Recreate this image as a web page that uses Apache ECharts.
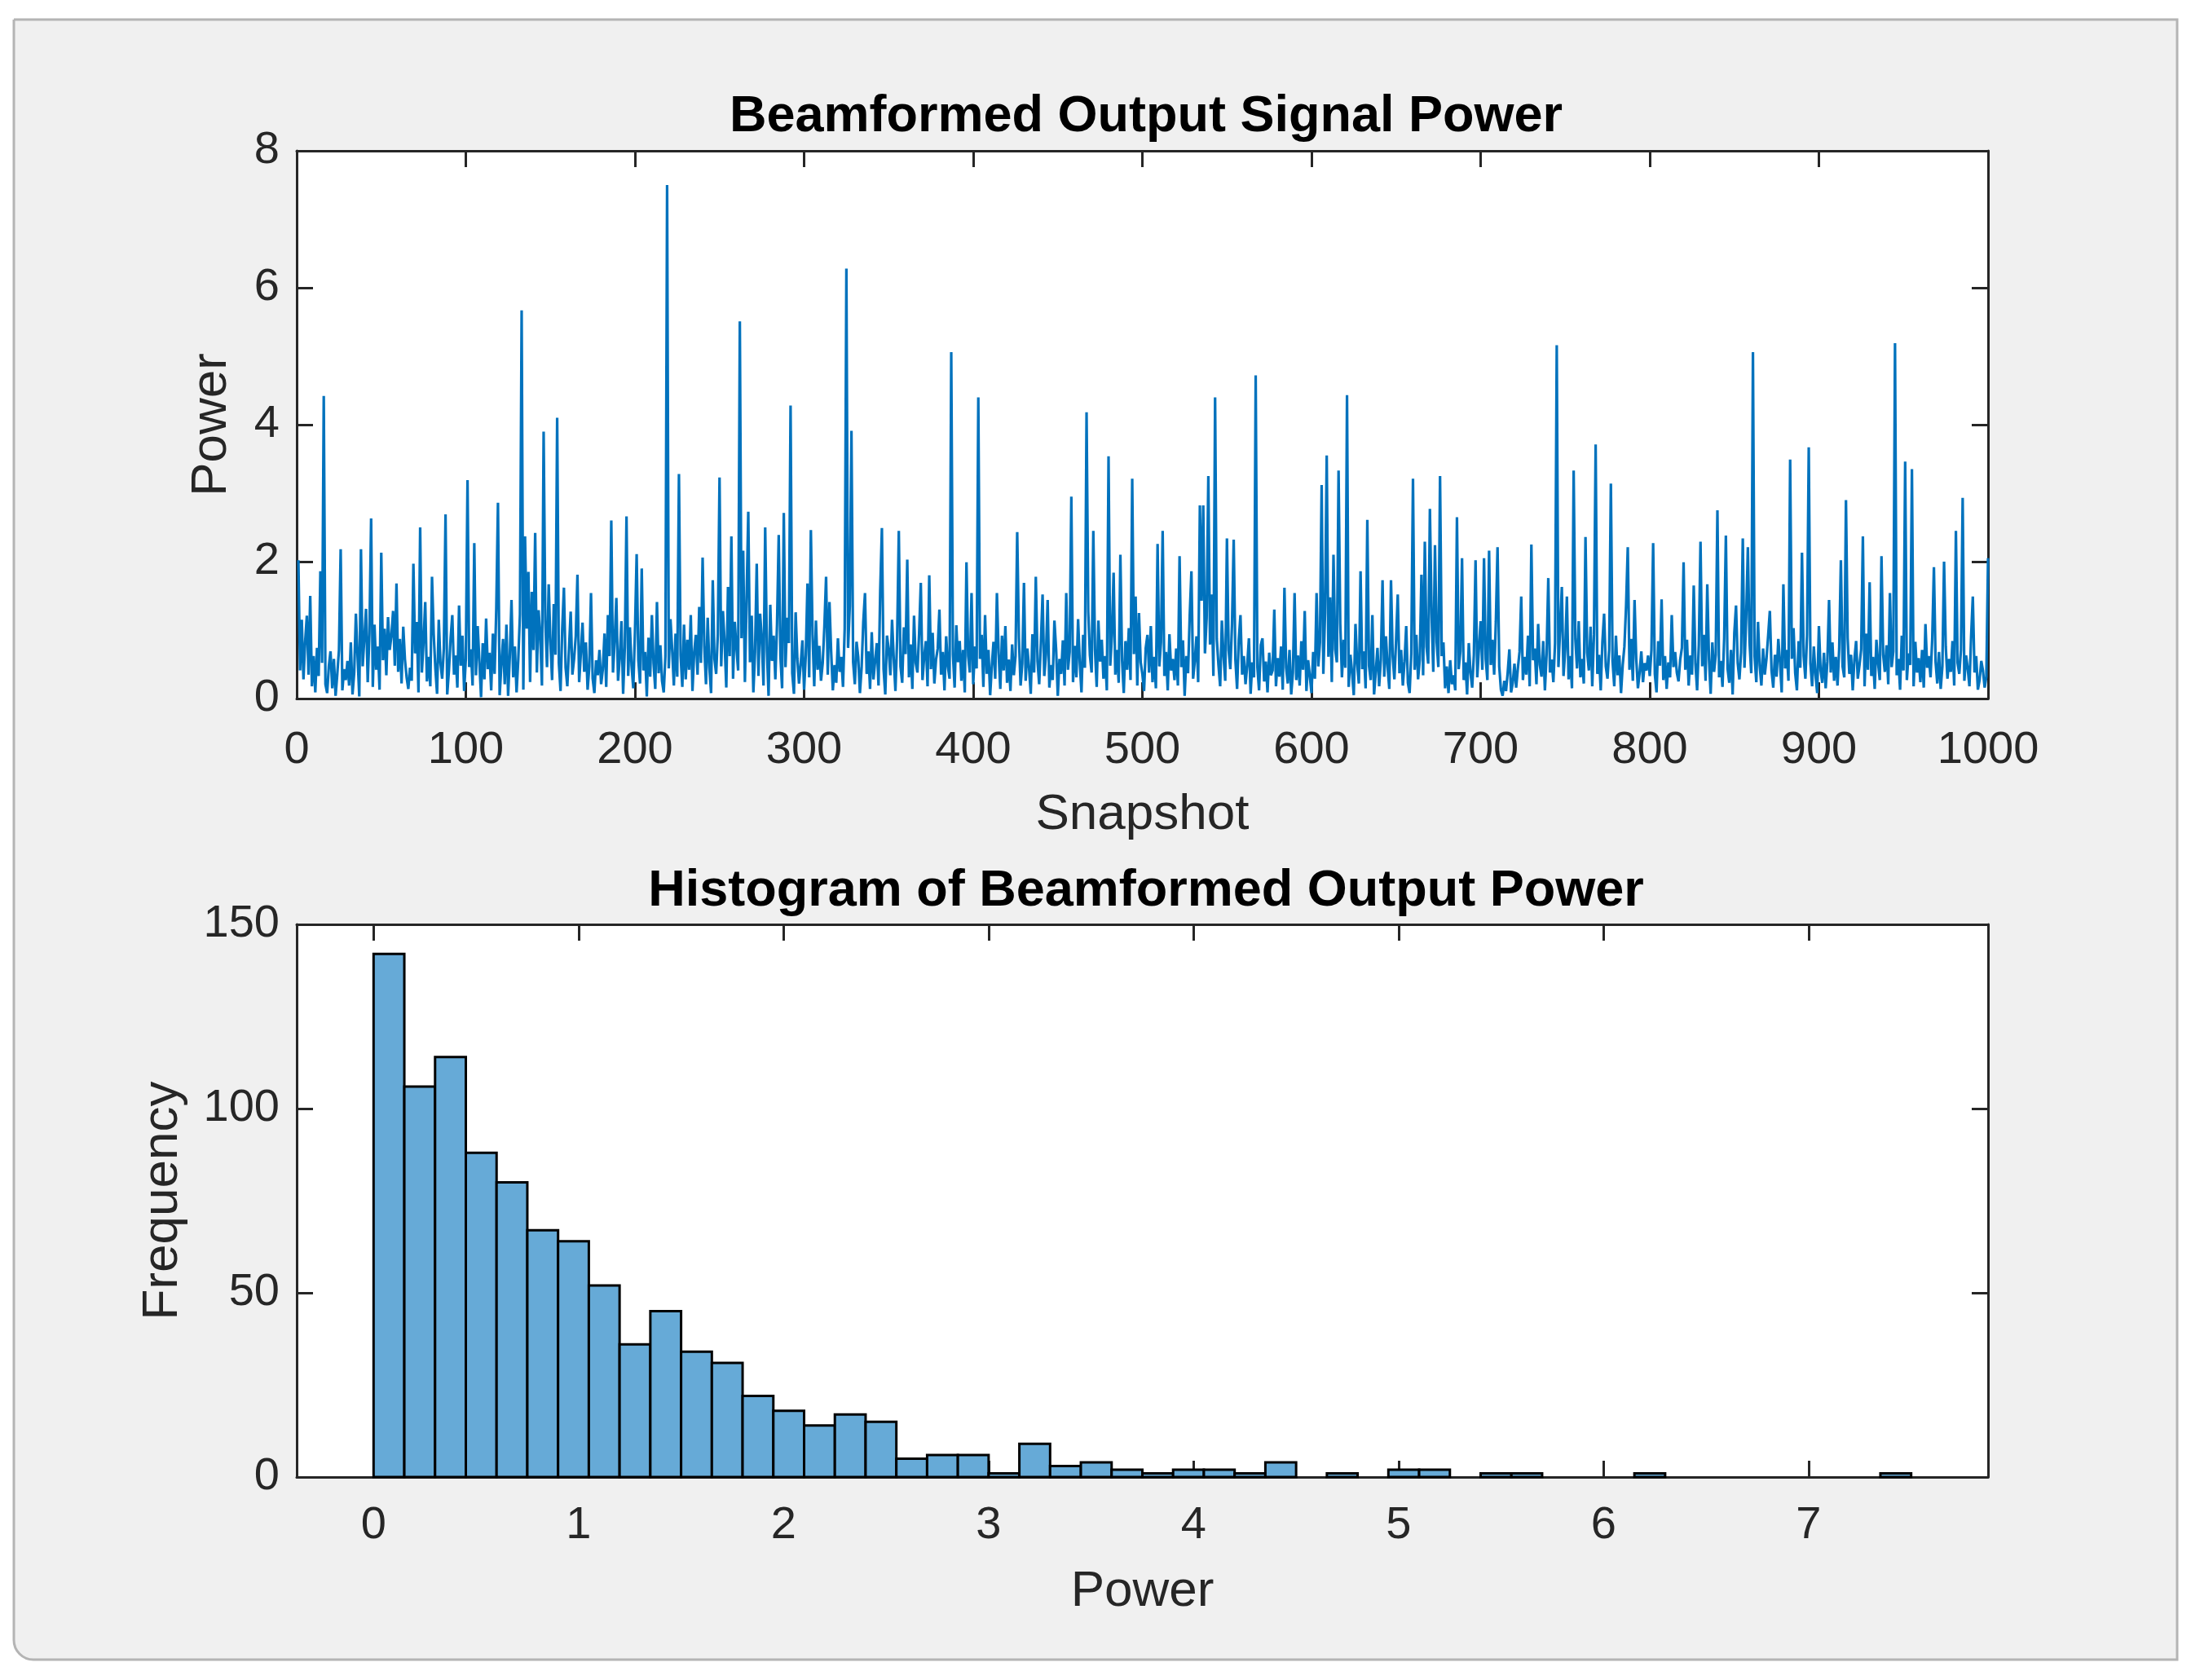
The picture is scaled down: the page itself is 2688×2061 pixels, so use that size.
<!DOCTYPE html>
<html>
<head>
<meta charset="utf-8">
<title>Beamformed Output</title>
<script src="https://cdn.jsdelivr.net/npm/echarts@6/dist/echarts.min.js"></script>
<style>
html, body { margin: 0; padding: 0; background: #ffffff; }
#chart { width: 2688px; height: 2061px; }
</style>
</head>
<body>
<div id="chart"></div>
<script>
// beamformed output power per snapshot (snapshots 1..1000)
var snapshotPower = [
2.02,0.41,1.15,0.28,0.83,1.21,0.35,1.50,0.18,0.62, 0.09,0.74,0.33,1.86,0.52,4.42,0.21,0.08,0.47,0.69,
0.15,0.58,0.04,0.36,0.71,2.18,0.12,0.43,0.27,0.55, 0.19,0.82,0.06,0.38,1.24,0.61,0.03,2.18,0.47,0.88,
1.31,0.24,0.95,2.63,0.17,1.08,0.42,0.76,0.13,2.13, 0.56,1.02,0.34,1.19,0.71,0.92,1.28,0.48,1.68,0.39,
0.87,0.22,1.05,0.57,0.31,0.14,0.45,0.26,1.97,0.66, 1.12,0.09,2.50,0.38,0.83,1.41,0.25,0.61,0.18,1.78,
0.94,0.44,0.07,1.15,0.52,0.29,0.73,2.69,0.06,0.41, 0.88,1.22,0.35,0.63,0.16,1.36,0.48,0.92,0.11,0.58,
3.19,0.46,0.72,0.19,2.27,0.34,1.06,0.55,0.02,0.81, 0.28,1.17,0.43,0.67,0.12,0.95,0.36,1.31,2.86,0.05,
0.49,0.87,0.21,1.08,0.04,0.62,1.44,0.31,0.76,0.09, 0.57,1.23,5.67,0.13,2.37,1.02,1.85,0.24,1.56,0.71,
2.42,0.38,1.29,0.92,0.19,3.90,1.13,0.46,1.67,0.83, 0.27,1.38,0.64,4.10,0.52,0.11,1.02,1.62,0.45,0.18,
0.73,1.27,0.35,0.58,0.91,1.81,0.24,0.66,1.11,0.39, 0.82,0.13,0.47,1.54,0.29,0.08,0.56,0.34,0.71,0.21,
0.43,0.95,0.17,1.22,0.62,2.60,0.38,0.84,1.47,0.26, 0.59,1.13,0.07,0.75,2.66,0.33,1.04,0.48,0.15,0.97,
2.11,0.56,0.22,1.90,0.41,0.68,0.03,0.89,0.32,1.22, 0.51,0.14,1.41,0.37,0.78,0.26,0.09,0.62,7.50,0.44,
1.16,0.71,0.19,0.95,0.32,3.28,0.63,0.17,1.08,0.28, 0.86,0.42,1.22,0.11,0.67,0.93,0.35,1.34,0.52,2.06,
0.76,0.21,1.18,0.45,0.08,1.73,0.58,0.36,0.94,3.23, 0.47,1.28,0.83,0.16,1.63,0.62,2.37,0.29,1.12,0.74,
0.41,5.51,0.88,2.16,0.24,1.46,2.73,0.53,1.21,0.09, 0.68,1.97,0.33,1.24,0.86,0.19,2.50,0.71,0.04,1.37,
0.55,0.92,0.28,1.09,2.39,0.62,0.15,2.71,0.46,1.18, 0.81,4.28,0.37,0.07,1.26,0.59,0.22,0.50,0.85,0.13,
0.64,1.68,0.31,2.46,0.93,0.18,1.14,0.42,0.77,0.26, 0.52,1.06,1.78,0.35,1.41,0.68,0.12,0.49,0.23,0.88,
0.39,0.61,0.17,1.02,6.28,0.74,1.35,3.91,0.53,0.21, 0.83,0.61,0.08,0.45,1.12,1.54,0.36,0.69,0.14,0.97,
0.28,0.55,0.81,0.19,1.57,2.49,0.43,0.06,0.92,0.72, 0.34,1.15,0.58,0.11,0.86,2.45,0.47,0.23,1.04,0.65,
2.03,0.31,0.79,0.14,1.21,0.52,0.38,0.95,1.69,0.27, 0.61,0.84,0.18,1.80,0.43,0.96,0.22,0.57,0.73,1.30,
0.35,0.68,0.12,0.91,0.47,0.29,5.06,0.64,0.16,1.07, 0.53,0.84,0.26,0.71,0.09,1.99,0.62,0.38,1.54,0.21,
0.76,0.44,4.40,0.58,0.93,0.17,1.22,0.36,0.71,0.05, 0.48,0.83,0.29,1.54,0.67,0.14,0.92,0.41,1.06,0.23,
0.57,0.11,0.79,0.34,0.62,2.43,0.88,0.19,0.51,1.69, 0.26,0.73,0.45,0.07,0.94,0.38,1.78,0.55,0.21,0.82,
1.52,0.33,0.64,1.44,0.16,0.49,0.27,1.14,0.72,0.04, 0.58,0.36,0.85,0.19,1.54,0.42,0.68,2.95,0.24,0.77,
0.31,1.16,0.52,0.09,0.93,0.45,4.18,1.27,0.63,0.38, 2.45,0.71,0.17,1.14,0.54,0.86,0.29,0.62,0.12,3.54,
0.48,0.92,1.84,0.35,0.71,0.23,2.10,0.56,0.08,0.84, 0.42,1.03,0.27,3.21,0.65,1.49,0.19,1.25,0.53,0.36,
0.11,0.74,0.93,0.38,1.06,0.24,0.61,0.15,2.26,0.47, 0.82,2.45,0.33,0.68,0.12,0.94,0.41,0.58,0.27,0.73,
0.19,2.08,0.46,0.85,0.04,0.62,0.37,1.21,1.86,0.29, 0.55,0.91,0.24,2.82,1.43,2.82,0.66,1.18,3.25,0.79,
1.52,0.33,4.40,0.87,0.49,0.18,1.14,0.62,0.26,2.34, 0.71,0.43,1.08,2.32,0.57,0.14,0.86,1.22,0.35,0.62,
0.21,0.49,0.88,0.07,0.53,0.31,4.72,0.46,0.12,0.78, 0.88,0.25,0.54,0.09,0.67,0.34,0.41,1.30,0.18,0.59,
0.32,0.76,0.13,1.62,0.45,0.22,0.71,0.06,0.38,1.54, 0.27,0.63,0.19,0.84,0.42,1.28,0.11,0.56,0.33,0.08,
0.68,0.29,1.54,0.47,0.82,3.12,0.36,1.25,3.55,0.61, 1.48,0.24,2.10,0.72,0.53,3.33,1.09,0.31,0.86,0.45,
4.43,0.17,0.64,0.38,0.05,1.09,0.51,0.22,1.86,0.43, 0.69,0.15,2.61,0.48,0.27,1.22,0.06,0.39,0.74,0.18,
0.57,1.73,0.32,0.91,0.46,0.14,1.73,0.62,0.28,0.85, 1.52,0.37,0.71,0.19,0.54,1.06,0.23,0.08,0.66,3.21,
0.42,0.93,0.28,0.57,1.81,0.34,2.29,0.76,0.51,2.77, 1.24,0.39,2.24,0.83,0.46,3.25,0.62,0.82,0.15,0.47,
0.08,0.56,0.21,0.34,0.12,2.65,0.43,0.69,2.05,0.27, 0.53,0.06,0.81,0.38,0.16,0.64,2.02,0.31,0.74,1.13,
0.42,2.05,0.58,0.27,2.16,0.49,0.86,0.35,1.12,2.21, 0.47,0.13,0.04,0.26,0.11,0.38,0.72,0.09,0.23,0.51,
0.16,0.44,0.68,1.49,0.27,0.61,0.35,0.92,0.18,2.25, 0.56,0.73,0.21,1.09,0.49,0.32,0.84,0.12,0.65,1.76,
0.38,0.57,0.24,0.81,5.16,0.46,1.02,1.63,0.33,0.71, 1.49,0.28,0.62,0.15,3.33,0.87,0.44,1.13,0.31,0.58,
0.22,2.36,0.67,0.41,1.05,0.18,0.93,3.71,0.36,0.64, 0.12,0.83,1.24,0.47,0.29,0.71,3.14,0.55,0.18,0.92,
0.34,0.63,0.08,0.49,0.76,1.36,2.21,0.42,0.87,0.26, 1.44,0.58,0.15,0.38,0.69,0.24,0.52,0.41,0.63,0.33,
0.71,2.27,0.36,0.09,0.84,0.48,1.45,0.27,0.62,0.14, 0.53,0.31,1.22,0.46,0.68,0.38,0.25,0.57,0.74,1.99,
0.42,0.86,0.19,0.63,0.35,1.65,0.51,0.12,0.78,2.29, 0.47,0.93,0.26,1.67,0.58,0.07,0.82,0.39,0.64,2.75,
0.31,0.55,0.17,0.88,2.38,0.44,0.23,0.71,0.06,0.96, 1.36,0.52,0.28,0.67,2.34,0.45,1.18,2.21,0.82,0.37,
5.06,0.61,0.24,1.12,0.48,0.19,0.73,0.35,0.58,0.92, 1.28,0.41,0.16,0.64,0.32,0.87,0.53,0.09,1.67,0.44,
0.71,0.26,3.49,0.58,1.03,0.37,0.12,0.84,0.45,2.13, 0.62,0.29,0.93,3.67,0.51,0.18,0.76,0.34,0.08,1.06,
0.41,0.23,0.67,0.15,0.54,1.44,0.38,0.82,0.26,0.61, 0.19,0.73,2.02,0.47,0.31,2.90,0.88,0.36,0.64,0.12,
0.57,0.84,0.29,0.49,0.72,2.37,0.18,0.95,0.42,1.70, 0.33,0.61,0.14,0.86,0.52,0.27,2.08,0.64,0.39,0.78,
0.21,1.54,0.46,0.69,5.19,0.34,0.58,0.13,0.92,0.41, 3.46,0.27,0.66,0.49,3.35,0.18,0.83,0.38,0.59,0.24,
0.71,0.16,1.09,0.45,0.62,0.31,0.87,1.92,0.53,0.22, 0.68,0.14,0.47,2.00,0.76,0.29,0.58,0.39,0.84,0.19,
2.45,0.52,0.36,0.71,2.93,0.26,0.63,0.44,0.18,0.91, 1.49,0.38,0.62,0.13,0.27,0.55,0.41,0.16,0.32,2.05
];

// histogram: 50 bins of width 0.15 starting at 0
var histBinStart = 0;
var histBinWidth = 0.15;
var histCounts = [
142,106,114,88,80,67,64,52,36,45,
34,31,22,18,14,17,15,5,6,6,
1,9,3,4,2,1,2,2,1,4,
0,1,0,2,2,0,1,1,0,0,
0,1,0,0,0,0,0,0,0,1
];
var histTicks = [0, 1, 2, 3, 4, 5, 6, 7];

var FONT = '"Liberation Sans", Arial, Helvetica, sans-serif';
var AXIS_COLOR = '#262626';

var lineData = snapshotPower.map(function (v, i) { return [i + 1, v]; });
var histData = histCounts.map(function (c, i) {
	var x0 = histBinStart + i * histBinWidth;
	return [x0, x0 + histBinWidth, c];
});

// plain number labels (no thousands separator)
function plain(v) { return String(v); }

// axis with box-style inward ticks
function makeAxis(extra, showLabel) {
	var ax = {
		axisLine: { show: true, onZero: false, lineStyle: { color: AXIS_COLOR, width: 3 } },
		axisTick: { show: true, inside: true, length: 20, lineStyle: { color: AXIS_COLOR, width: 3 } },
		axisLabel: { show: showLabel, color: AXIS_COLOR, fontSize: 56, fontFamily: FONT, formatter: plain },
		splitLine: { show: false },
		nameTextStyle: { color: AXIS_COLOR, fontSize: 62, fontFamily: FONT }
	};
	for (var k in extra) {
		if (typeof extra[k] === 'object' && ax[k] && !Array.isArray(extra[k])) {
			ax[k] = Object.assign({}, ax[k], extra[k]);
		} else {
			ax[k] = extra[k];
		}
	}
	return ax;
}

var chart = echarts.init(document.getElementById('chart'), null, { renderer: 'canvas' });

var option = {
	animation: false,
	backgroundColor: '#ffffff',
	graphic: [{
		type: 'rect',
		z: -10,
		shape: { x: 17, y: 24, width: 2654, height: 2012, r: [0, 0, 0, 24] },
		style: { fill: '#f0f0f0', stroke: '#b4b4b4', lineWidth: 3 }
	}],
	title: [{
		text: 'Beamformed Output Signal Power',
		left: 1401, top: 107, textAlign: 'center',
		textStyle: { fontSize: 63, fontWeight: 'bold', color: '#000000', fontFamily: FONT }
	}, {
		text: 'Histogram of Beamformed Output Power',
		left: 1401, top: 1057, textAlign: 'center',
		textStyle: { fontSize: 63, fontWeight: 'bold', color: '#000000', fontFamily: FONT }
	}],
	grid: [
		{ left: 364, top: 185, width: 2075, height: 672, backgroundColor: '#ffffff', show: true, borderWidth: 0 },
		{ left: 364, top: 1134, width: 2075, height: 678, backgroundColor: '#ffffff', show: true, borderWidth: 0 }
	],
	xAxis: [
		makeAxis({ type: 'value', gridIndex: 0, min: 0, max: 1000, interval: 100, position: 'bottom',
			name: 'Snapshot', nameLocation: 'middle', nameGap: 112,
			axisLabel: { margin: 36 } }, true),
		makeAxis({ type: 'value', gridIndex: 0, min: 0, max: 1000, interval: 100, position: 'top' }, false),
		makeAxis({ type: 'value', gridIndex: 1, min: -0.375, max: 7.875, position: 'bottom',
			name: 'Power', nameLocation: 'middle', nameGap: 110,
			axisTick: { customValues: histTicks },
			axisLabel: { margin: 32, customValues: histTicks } }, true),
		makeAxis({ type: 'value', gridIndex: 1, min: -0.375, max: 7.875, position: 'top',
			axisTick: { customValues: histTicks } }, false)
	],
	yAxis: [
		makeAxis({ type: 'value', gridIndex: 0, min: 0, max: 8, interval: 2, position: 'left',
			name: 'Power', nameLocation: 'middle', nameGap: 73,
			axisLabel: { margin: 21 } }, true),
		makeAxis({ type: 'value', gridIndex: 0, min: 0, max: 8, interval: 2, position: 'right' }, false),
		makeAxis({ type: 'value', gridIndex: 1, min: 0, max: 150, interval: 50, position: 'left',
			name: 'Frequency', nameLocation: 'middle', nameGap: 133,
			axisLabel: { margin: 21 } }, true),
		makeAxis({ type: 'value', gridIndex: 1, min: 0, max: 150, interval: 50, position: 'right' }, false)
	],
	series: [{
		type: 'line',
		xAxisIndex: 0,
		yAxisIndex: 0,
		data: lineData,
		showSymbol: false,
		sampling: null,
		lineStyle: { color: '#0072BD', width: 3.2 },
		z: 5
	}, {
		type: 'custom',
		xAxisIndex: 2,
		yAxisIndex: 2,
		data: histData,
		encode: { x: [0, 1], y: 2 },
		renderItem: function (params, api) {
			var count = api.value(2);
			if (!count) return;
			var p0 = api.coord([api.value(0), count]);
			var p1 = api.coord([api.value(1), 0]);
			return {
				type: 'rect',
				shape: { x: p0[0], y: p0[1], width: p1[0] - p0[0], height: p1[1] - p0[1] },
				style: { fill: '#66AAD7', stroke: '#000000', lineWidth: 3 }
			};
		},
		z: 5
	}]
};

chart.setOption(option);
</script>
</body>
</html>
